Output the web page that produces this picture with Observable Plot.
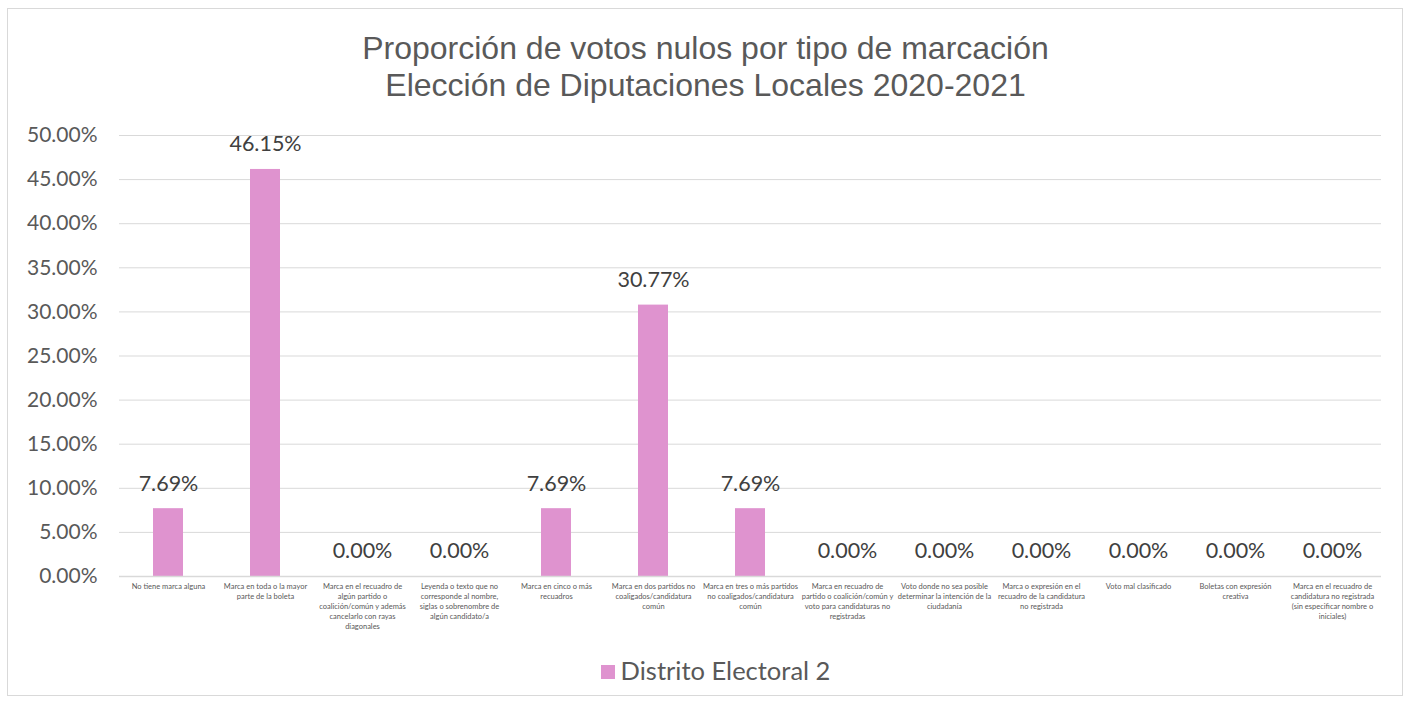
<!DOCTYPE html>
<html>
<head>
<meta charset="utf-8">
<script src="https://cdn.jsdelivr.net/npm/d3@7"></script>
<script src="https://cdn.jsdelivr.net/npm/@observablehq/plot@0.6"></script>
<style>
  html, body { margin: 0; padding: 0; background: #fff; }
  #wrap { position: relative; width: 1411px; height: 704px; overflow: hidden; font-family: Lato, "Open Sans", sans-serif; }
  #frame { position: absolute; left: 7px; top: 8px; width: 1396px; height: 688px; border: 1px solid #d9d9d9; box-sizing: border-box; }
  #title { position: absolute; left: 0; width: 1411px; top: 30px; text-align: center; color: #595959; font-family: "Liberation Sans", Arial, sans-serif; font-size: 32px; line-height: 37px; }
  #chart { position: absolute; left: 0; top: 0; }
  #legend { position: absolute; left: 10px; width: 1411px; top: 655px; text-align: center; color: #595959; font-size: 25.5px; line-height: 30px; }
  #legend .sw { display: inline-block; width: 14px; height: 14px; margin-right: 6px; vertical-align: 1px; }
</style>
</head>
<body>
<div id="wrap">
  <div id="frame"></div>
  <div id="chart"></div>
  <div id="title"></div>
  <div id="legend"></div>
</div>
<script>
const titleLines = ["Proporción de votos nulos por tipo de marcación", "Elección de Diputaciones Locales 2020-2021"];
const seriesName = "Distrito Electoral 2";
const categories = [
  "No tiene marca alguna",
  "Marca en toda o la mayor\nparte de la boleta",
  "Marca en el recuadro de\nalgún partido o\ncoalición/común y además\ncancelarlo con rayas\ndiagonales",
  "Leyenda o texto que no\ncorresponde al nombre,\nsiglas o sobrenombre de\nalgún candidato/a",
  "Marca en cinco o más\nrecuadros",
  "Marca en dos partidos no\ncoaligados/candidatura\ncomún",
  "Marca en tres o más partidos\nno coaligados/candidatura\ncomún",
  "Marca en recuadro de\npartido o coalición/común y\nvoto para candidaturas no\nregistradas",
  "Voto donde no sea posible\ndeterminar la intención de la\nciudadanía",
  "Marca o expresión en el\nrecuadro de la candidatura\nno registrada",
  "Voto mal clasificado",
  "Boletas con expresión\ncreativa",
  "Marca en el recuadro de\ncandidatura no registrada\n(sin especificar nombre o\niniciales)"
];
const values = [0.0769, 0.4615, 0, 0, 0.0769, 0.3077, 0.0769, 0, 0, 0, 0, 0, 0];
const yTicks = [0, 0.05, 0.10, 0.15, 0.20, 0.25, 0.30, 0.35, 0.40, 0.45, 0.50];

const barColor = "#df93cf";
const data = categories.map((c, i) => ({category: c, value: values[i]}));
const pct = d3.format(".2%");

const chart = Plot.plot({
  width: 1411,
  height: 704,
  marginLeft: 119,
  marginRight: 30,
  marginTop: 135,
  marginBottom: 128,
  style: {fontFamily: "Lato, 'Open Sans', sans-serif", background: "transparent"},
  x: {domain: categories, paddingInner: 0.69, paddingOuter: 0.345, label: null},
  y: {domain: [0, 0.5], label: null},
  marks: [
    Plot.gridY(yTicks, {stroke: "#d9d9d9", strokeOpacity: 1, strokeWidth: 1}),
    Plot.axisY(yTicks, {tickSize: 0, tickPadding: 22, tickFormat: pct, fontSize: 21, fill: "#595959", label: null}),
    Plot.axisX({tickSize: 0, tickPadding: 5, fontSize: 7.5, lineHeight: 1.35, fill: "#595959", label: null, tickFormat: d => d}),
    Plot.barY(data, {x: "category", y: "value", fill: barColor}),
    Plot.ruleY([0], {stroke: "#d9d9d9", strokeWidth: 1.5}),
    Plot.text(data, {x: "category", y: "value", text: d => pct(d.value), dy: -25, fontSize: 21.5, fill: "#404040"})
  ]
});
document.getElementById("chart").appendChild(chart);
document.getElementById("title").innerHTML = titleLines.join("<br>");
document.getElementById("legend").innerHTML = `<span class="sw" style="background:${barColor}"></span>${seriesName}`;
</script>
</body>
</html>
